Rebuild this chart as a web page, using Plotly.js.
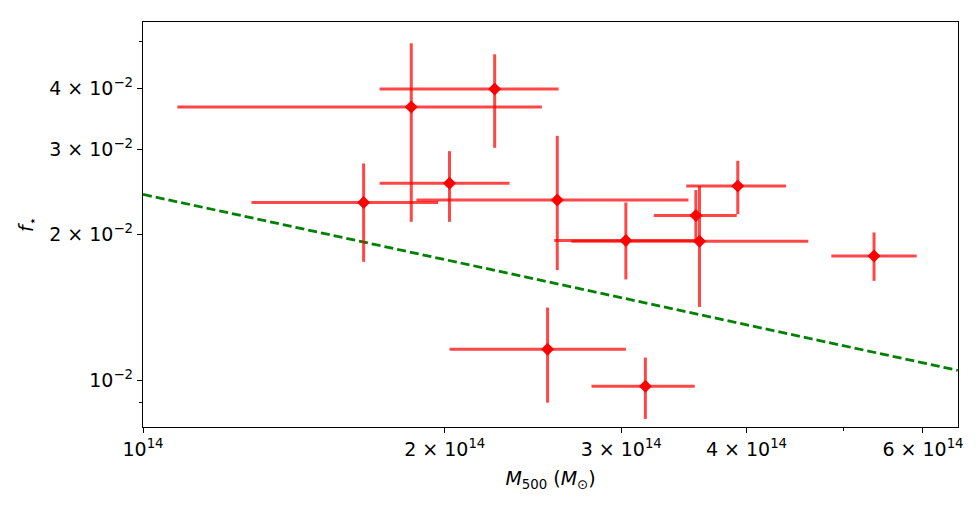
<!DOCTYPE html>
<html>
<head>
<meta charset="utf-8">
<script src="https://cdn.plot.ly/plotly-3.0.1.min.js"></script>
<style>html,body{margin:0;padding:0;background:#fff;}#chart{width:980px;height:506px;}</style>
</head>
<body>
<div id="chart"></div>
<script>
// Cluster masses (M500, solar masses) and stellar fractions
const mass    = [1.66e14, 1.852e14, 2.243e14, 2.022e14, 2.590e14, 3.032e14, 3.591e14, 3.561e14, 3.921e14, 5.362e14, 2.533e14, 3.171e14];
const massLo  = [1.283e14, 1.082e14, 1.722e14, 1.722e14, 1.874e14, 2.572e14, 2.675e14, 3.233e14, 3.483e14, 4.861e14, 2.022e14, 2.802e14];
const massHi  = [1.970e14, 2.500e14, 2.598e14, 2.321e14, 3.501e14, 3.572e14, 4.611e14, 3.912e14, 4.381e14, 5.914e14, 3.032e14, 3.552e14];
const fstar   = [0.02329, 0.03664, 0.03993, 0.02550, 0.02355, 0.01944, 0.01937, 0.02189, 0.02517, 0.01806, 0.01159, 0.00972];
const fstarLo = [0.01756, 0.02124, 0.03020, 0.02124, 0.01688, 0.01615, 0.01417, 0.01941, 0.02203, 0.01604, 0.00899, 0.00832];
const fstarHi = [0.02803, 0.04963, 0.04710, 0.02972, 0.03197, 0.02329, 0.02517, 0.02470, 0.02839, 0.02019, 0.01413, 0.01114];

// Model relation (dashed line) endpoints
const modelMass  = [1.0e14, 6.5e14];
const modelFstar = [0.0242, 0.01048];

// Tick labels
const xTickVals = [1e14, 2e14, 3e14, 4e14, 6e14];
const xTickText = ['10<sup>14</sup>', '2 × 10<sup>14</sup>', '3 × 10<sup>14</sup>', '4 × 10<sup>14</sup>', '6 × 10<sup>14</sup>'];
const xMinorVals = [5e14];
const yTickVals = [0.01, 0.02, 0.03, 0.04];
const yTickText = ['10<sup>−2</sup>', '2 × 10<sup>−2</sup>', '3 × 10<sup>−2</sup>', '4 × 10<sup>−2</sup>'];
const yMinorVals = [0.009, 0.05];

const errX = {type: 'data', symmetric: false,
  array: mass.map((m, i) => massHi[i] - m),
  arrayminus: mass.map((m, i) => m - massLo[i]),
  color: 'rgba(255,0,0,0.72)', thickness: 3, width: 0};
const errY = {type: 'data', symmetric: false,
  array: fstar.map((f, i) => fstarHi[i] - f),
  arrayminus: fstar.map((f, i) => f - fstarLo[i]),
  color: 'rgba(255,0,0,0.72)', thickness: 3, width: 0};

const traces = [
  {x: modelMass, y: modelFstar, mode: 'lines', type: 'scatter',
   line: {color: 'green', width: 2.8, dash: '9px,4px'}, hoverinfo: 'skip'},
  {x: mass, y: fstar, mode: 'markers', type: 'scatter',
   marker: {symbol: 'diamond', color: 'red', size: 10},
   error_x: errX, error_y: errY}
];

const axisFont = {family: 'DejaVu Sans', size: 19, color: '#000'};
const layout = {
  width: 980, height: 506,
  margin: {l: 143, r: 22, t: 22, b: 79},
  paper_bgcolor: '#fff', plot_bgcolor: '#fff',
  showlegend: false,
  font: {family: 'DejaVu Sans', size: 19, color: '#000'},
  xaxis: {
    type: 'log', range: [14, 14.8131],
    tickmode: 'array', tickvals: xTickVals, ticktext: xTickText,
    ticks: 'outside', ticklen: 5, tickwidth: 1, tickcolor: '#000',
    minor: {tickmode: 'array', tickvals: xMinorVals, ticks: 'outside', ticklen: 3, tickcolor: '#000', showgrid: false},
    showgrid: false, zeroline: false,
    showline: true, linecolor: '#000', linewidth: 1.2, mirror: true,
    tickfont: axisFont,
    title: {text: '<i>M</i><sub>500</sub> (<i>M</i><sub>⊙</sub>)', font: axisFont, standoff: 12}
  },
  yaxis: {
    type: 'log', range: [-2.0965, -1.2603],
    tickmode: 'array', tickvals: yTickVals, ticktext: yTickText,
    ticks: 'outside', ticklen: 5, tickwidth: 1, tickcolor: '#000',
    minor: {tickmode: 'array', tickvals: yMinorVals, ticks: 'outside', ticklen: 3, tickcolor: '#000', showgrid: false},
    showgrid: false, zeroline: false,
    showline: true, linecolor: '#000', linewidth: 1.2, mirror: true,
    tickfont: axisFont,
    title: {text: '<i>f</i><sub>⋆</sub>', font: axisFont, standoff: 10}
  }
};

Plotly.newPlot('chart', traces, layout, {displayModeBar: false, staticPlot: true});
</script>
</body>
</html>
